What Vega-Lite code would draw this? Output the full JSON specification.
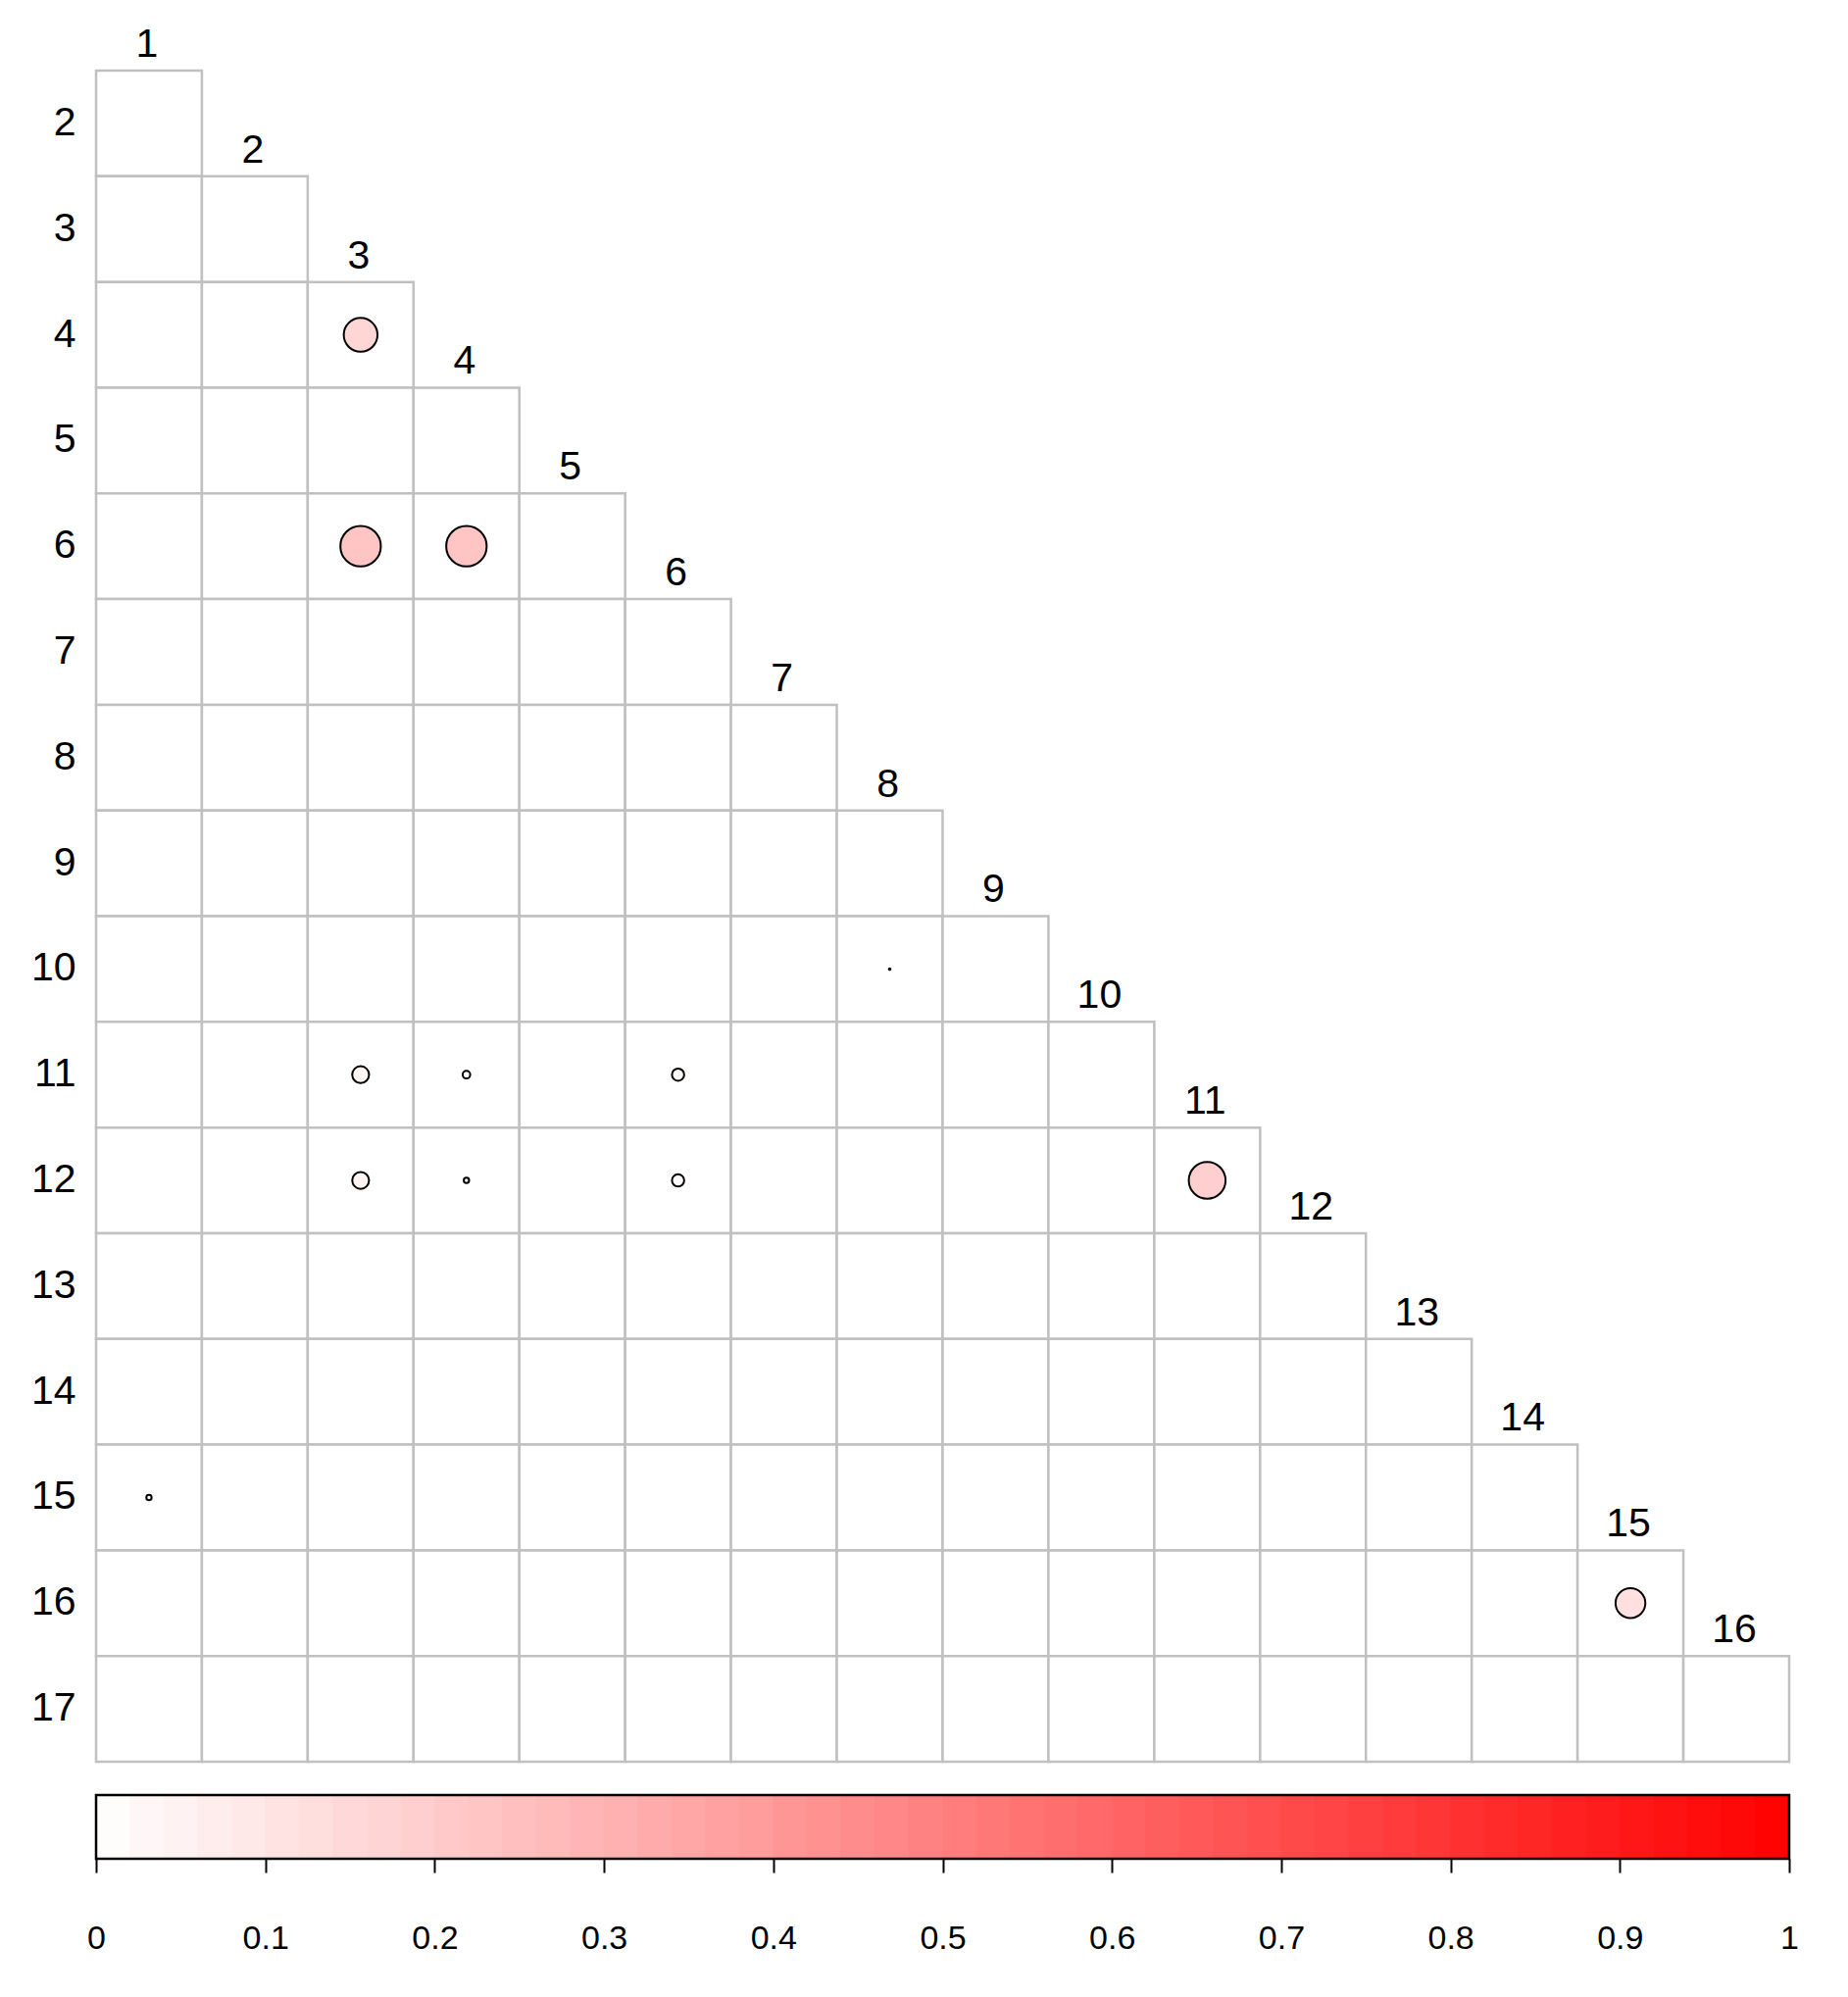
{
  "$schema": "https://vega.github.io/schema/vega-lite/v6.json",
  "background": "white",
  "padding": {"left": 31, "top": 24, "right": 0, "bottom": 0},
  "spacing": 30,
  "config": {"font": "Liberation Sans", "view": {"stroke": null}},
  "datasets": {
    "cells": [
      {"r":2,"c":1,"v":0},
      {"r":3,"c":1,"v":0},{"r":3,"c":2,"v":0},
      {"r":4,"c":1,"v":0},{"r":4,"c":2,"v":0},{"r":4,"c":3,"v":0.16},
      {"r":5,"c":1,"v":0},{"r":5,"c":2,"v":0},{"r":5,"c":3,"v":0},{"r":5,"c":4,"v":0},
      {"r":6,"c":1,"v":0},{"r":6,"c":2,"v":0},{"r":6,"c":3,"v":0.23},{"r":6,"c":4,"v":0.23},{"r":6,"c":5,"v":0},
      {"r":7,"c":1,"v":0},{"r":7,"c":2,"v":0},{"r":7,"c":3,"v":0},{"r":7,"c":4,"v":0},{"r":7,"c":5,"v":0},{"r":7,"c":6,"v":0},
      {"r":8,"c":1,"v":0},{"r":8,"c":2,"v":0},{"r":8,"c":3,"v":0},{"r":8,"c":4,"v":0},{"r":8,"c":5,"v":0},{"r":8,"c":6,"v":0},{"r":8,"c":7,"v":0},
      {"r":9,"c":1,"v":0},{"r":9,"c":2,"v":0},{"r":9,"c":3,"v":0},{"r":9,"c":4,"v":0},{"r":9,"c":5,"v":0},{"r":9,"c":6,"v":0},{"r":9,"c":7,"v":0},{"r":9,"c":8,"v":0},
      {"r":10,"c":1,"v":0},{"r":10,"c":2,"v":0},{"r":10,"c":3,"v":0},{"r":10,"c":4,"v":0},{"r":10,"c":5,"v":0},{"r":10,"c":6,"v":0},{"r":10,"c":7,"v":0},{"r":10,"c":8,"v":0.0003},{"r":10,"c":9,"v":0},
      {"r":11,"c":1,"v":0},{"r":11,"c":2,"v":0},{"r":11,"c":3,"v":0.04},{"r":11,"c":4,"v":0.008},{"r":11,"c":5,"v":0},{"r":11,"c":6,"v":0.021},{"r":11,"c":7,"v":0},{"r":11,"c":8,"v":0},{"r":11,"c":9,"v":0},{"r":11,"c":10,"v":0},
      {"r":12,"c":1,"v":0},{"r":12,"c":2,"v":0},{"r":12,"c":3,"v":0.04},{"r":12,"c":4,"v":0.004},{"r":12,"c":5,"v":0},{"r":12,"c":6,"v":0.021},{"r":12,"c":7,"v":0},{"r":12,"c":8,"v":0},{"r":12,"c":9,"v":0},{"r":12,"c":10,"v":0},{"r":12,"c":11,"v":0.19},
      {"r":13,"c":1,"v":0},{"r":13,"c":2,"v":0},{"r":13,"c":3,"v":0},{"r":13,"c":4,"v":0},{"r":13,"c":5,"v":0},{"r":13,"c":6,"v":0},{"r":13,"c":7,"v":0},{"r":13,"c":8,"v":0},{"r":13,"c":9,"v":0},{"r":13,"c":10,"v":0},{"r":13,"c":11,"v":0},{"r":13,"c":12,"v":0},
      {"r":14,"c":1,"v":0},{"r":14,"c":2,"v":0},{"r":14,"c":3,"v":0},{"r":14,"c":4,"v":0},{"r":14,"c":5,"v":0},{"r":14,"c":6,"v":0},{"r":14,"c":7,"v":0},{"r":14,"c":8,"v":0},{"r":14,"c":9,"v":0},{"r":14,"c":10,"v":0},{"r":14,"c":11,"v":0},{"r":14,"c":12,"v":0},{"r":14,"c":13,"v":0},
      {"r":15,"c":1,"v":0.004},{"r":15,"c":2,"v":0},{"r":15,"c":3,"v":0},{"r":15,"c":4,"v":0},{"r":15,"c":5,"v":0},{"r":15,"c":6,"v":0},{"r":15,"c":7,"v":0},{"r":15,"c":8,"v":0},{"r":15,"c":9,"v":0},{"r":15,"c":10,"v":0},{"r":15,"c":11,"v":0},{"r":15,"c":12,"v":0},{"r":15,"c":13,"v":0},{"r":15,"c":14,"v":0},
      {"r":16,"c":1,"v":0},{"r":16,"c":2,"v":0},{"r":16,"c":3,"v":0},{"r":16,"c":4,"v":0},{"r":16,"c":5,"v":0},{"r":16,"c":6,"v":0},{"r":16,"c":7,"v":0},{"r":16,"c":8,"v":0},{"r":16,"c":9,"v":0},{"r":16,"c":10,"v":0},{"r":16,"c":11,"v":0},{"r":16,"c":12,"v":0},{"r":16,"c":13,"v":0},{"r":16,"c":14,"v":0},{"r":16,"c":15,"v":0.125},
      {"r":17,"c":1,"v":0},{"r":17,"c":2,"v":0},{"r":17,"c":3,"v":0},{"r":17,"c":4,"v":0},{"r":17,"c":5,"v":0},{"r":17,"c":6,"v":0},{"r":17,"c":7,"v":0},{"r":17,"c":8,"v":0},{"r":17,"c":9,"v":0},{"r":17,"c":10,"v":0},{"r":17,"c":11,"v":0},{"r":17,"c":12,"v":0},{"r":17,"c":13,"v":0},{"r":17,"c":14,"v":0},{"r":17,"c":15,"v":0},{"r":17,"c":16,"v":0}
    ],
    "bar": [
      {"lo":0.00,"hi":0.02,"m":0.01},{"lo":0.02,"hi":0.04,"m":0.03},{"lo":0.04,"hi":0.06,"m":0.05},{"lo":0.06,"hi":0.08,"m":0.07},{"lo":0.08,"hi":0.10,"m":0.09},
      {"lo":0.10,"hi":0.12,"m":0.11},{"lo":0.12,"hi":0.14,"m":0.13},{"lo":0.14,"hi":0.16,"m":0.15},{"lo":0.16,"hi":0.18,"m":0.17},{"lo":0.18,"hi":0.20,"m":0.19},
      {"lo":0.20,"hi":0.22,"m":0.21},{"lo":0.22,"hi":0.24,"m":0.23},{"lo":0.24,"hi":0.26,"m":0.25},{"lo":0.26,"hi":0.28,"m":0.27},{"lo":0.28,"hi":0.30,"m":0.29},
      {"lo":0.30,"hi":0.32,"m":0.31},{"lo":0.32,"hi":0.34,"m":0.33},{"lo":0.34,"hi":0.36,"m":0.35},{"lo":0.36,"hi":0.38,"m":0.37},{"lo":0.38,"hi":0.40,"m":0.39},
      {"lo":0.40,"hi":0.42,"m":0.41},{"lo":0.42,"hi":0.44,"m":0.43},{"lo":0.44,"hi":0.46,"m":0.45},{"lo":0.46,"hi":0.48,"m":0.47},{"lo":0.48,"hi":0.50,"m":0.49},
      {"lo":0.50,"hi":0.52,"m":0.51},{"lo":0.52,"hi":0.54,"m":0.53},{"lo":0.54,"hi":0.56,"m":0.55},{"lo":0.56,"hi":0.58,"m":0.57},{"lo":0.58,"hi":0.60,"m":0.59},
      {"lo":0.60,"hi":0.62,"m":0.61},{"lo":0.62,"hi":0.64,"m":0.63},{"lo":0.64,"hi":0.66,"m":0.65},{"lo":0.66,"hi":0.68,"m":0.67},{"lo":0.68,"hi":0.70,"m":0.69},
      {"lo":0.70,"hi":0.72,"m":0.71},{"lo":0.72,"hi":0.74,"m":0.73},{"lo":0.74,"hi":0.76,"m":0.75},{"lo":0.76,"hi":0.78,"m":0.77},{"lo":0.78,"hi":0.80,"m":0.79},
      {"lo":0.80,"hi":0.82,"m":0.81},{"lo":0.82,"hi":0.84,"m":0.83},{"lo":0.84,"hi":0.86,"m":0.85},{"lo":0.86,"hi":0.88,"m":0.87},{"lo":0.88,"hi":0.90,"m":0.89},
      {"lo":0.90,"hi":0.92,"m":0.91},{"lo":0.92,"hi":0.94,"m":0.93},{"lo":0.94,"hi":0.96,"m":0.95},{"lo":0.96,"hi":0.98,"m":0.97},{"lo":0.98,"hi":1.00,"m":0.99}
    ]
  },
  "vconcat": [
    {
      "width": 1727,
      "height": 1725,
      "data": {"name": "cells"},
      "encoding": {
        "x": {"field": "c", "type": "ordinal", "scale": {"type": "band", "domain": [1,2,3,4,5,6,7,8,9,10,11,12,13,14,15,16], "paddingInner": 0, "paddingOuter": 0}, "axis": null},
        "y": {"field": "r", "type": "ordinal", "scale": {"type": "band", "domain": [2,3,4,5,6,7,8,9,10,11,12,13,14,15,16,17], "paddingInner": 0, "paddingOuter": 0},
              "axis": {"title": null, "domain": false, "ticks": false, "tickSize": 0, "labelPadding": 21, "labelFontSize": 41, "labelColor": "black", "labelFont": "Liberation Sans"}}
      },
      "layer": [
        {"mark": {"type": "rect", "fill": "white", "stroke": "#C0C0C0", "strokeWidth": 2.5}},
        {
          "transform": [{"filter": "datum.v > 0"}],
          "mark": {"type": "point", "shape": "circle", "filled": true, "stroke": "black", "strokeWidth": 2, "opacity": 1},
          "encoding": {
            "size": {"field": "v", "type": "quantitative", "scale": {"type": "linear", "domain": [0, 1], "range": [0, 7405], "zero": true}, "legend": null},
            "color": {"field": "v", "type": "quantitative", "scale": {"type": "linear", "domain": [0, 1], "range": ["#ffffff", "#ff0000"], "interpolate": "rgb"}, "legend": null}
          }
        },
        {
          "transform": [{"filter": "datum.r == datum.c + 1"}],
          "mark": {"type": "text", "baseline": "alphabetic", "align": "center", "dy": -68, "dx": -2, "fontSize": 41, "font": "Liberation Sans", "color": "black"},
          "encoding": {"text": {"field": "c", "type": "nominal"}}
        }
      ]
    },
    {
      "width": 1727,
      "height": 65,
      "encoding": {
        "x": {"field": "lo", "type": "quantitative", "scale": {"domain": [0, 1], "nice": false, "zero": false},
              "axis": {"title": null, "domain": false, "grid": false, "values": [0,0.1,0.2,0.3,0.4,0.5,0.6,0.7,0.8,0.9,1], "format": "~g", "tickColor": "black", "tickWidth": 2, "tickSize": 14, "labelPadding": 50, "labelFontSize": 34, "labelColor": "black", "labelFont": "Liberation Sans", "labelFlush": false, "labelOverlap": false}},
        "x2": {"field": "hi"}
      },
      "layer": [
        {
          "data": {"name": "bar"},
          "mark": {"type": "rect", "strokeWidth": 1},
          "encoding": {
            "fill": {"field": "m", "type": "quantitative", "scale": {"type": "linear", "domain": [0, 1], "range": ["#ffffff", "#ff0000"], "interpolate": "rgb"}, "legend": null},
            "stroke": {"field": "m", "type": "quantitative", "scale": {"type": "linear", "domain": [0, 1], "range": ["#ffffff", "#ff0000"], "interpolate": "rgb"}, "legend": null}
          }
        },
        {
          "data": {"values": [{"lo": 0, "hi": 1}]},
          "mark": {"type": "rect", "fill": null, "fillOpacity": 0, "stroke": "black", "strokeWidth": 2.5}
        }
      ]
    }
  ]
}
